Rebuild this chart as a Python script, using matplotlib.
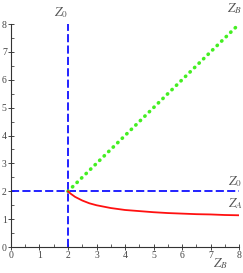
import matplotlib
matplotlib.use("Agg")
import matplotlib.pyplot as plt
from matplotlib.ticker import MultipleLocator

plt.rcParams['mathtext.fontset'] = 'stix'
plt.rcParams['font.family'] = 'Liberation Serif'

# red curve Z_A against Z_B
zb = [2.0, 2.1, 2.25, 2.5, 2.75, 3.0, 3.5, 4.0, 4.5, 5.0, 5.5, 6.0, 6.5, 7.0, 7.5, 8.0]
za = [2.0, 1.91, 1.8, 1.67, 1.57, 1.5, 1.4, 1.33, 1.29, 1.25, 1.22, 1.2, 1.18, 1.17, 1.15, 1.14]

# green dotted line Z_B = Z_B
diag_x = [2, 8]
diag_y = [2, 8]

z0 = 2
axis_max = 8

fig = plt.figure(figsize=(2.43, 2.73), dpi=100)
ax = fig.add_axes([0.045, 0.095, 0.939, 0.817])

ax.plot([z0, z0], [0, axis_max], color='#1010ff', lw=1.3, dashes=(4.5, 1.8))
ax.plot([0, axis_max], [z0, z0], color='#1010ff', lw=1.3, dashes=(4.5, 1.8))
ax.plot(diag_x, diag_y, color='#44ee22', lw=2.6, linestyle=(0, (0.1, 1.65)),
        dash_capstyle='round')
ax.plot(zb, za, color='#ff1010', lw=1.3)

ax.set_xlim(0, axis_max)
ax.set_ylim(0, axis_max)
ax.spines['top'].set_visible(False)
ax.spines['right'].set_visible(False)
for s in ['left', 'bottom']:
    ax.spines[s].set_color('#333333')
    ax.spines[s].set_linewidth(0.8)
ax.xaxis.set_major_locator(MultipleLocator(1))
ax.yaxis.set_major_locator(MultipleLocator(1))
ax.xaxis.set_minor_locator(MultipleLocator(0.5))
ax.yaxis.set_minor_locator(MultipleLocator(0.5))
ax.tick_params(which='major', direction='inout', length=4, width=0.7, colors='#444444',
               labelsize=7, pad=1)
ax.tick_params(which='minor', direction='in', length=2, width=0.6, color='#444444')
ax.set_facecolor('none')

lab = dict(color='#555555', fontsize=9.5, clip_on=False)
ax.text(2.0, 8.15, r'$Z_0$', ha='right', va='bottom', **lab)
ax.text(7.85, 8.55, r'$Z_B$', ha='center', va='center', **lab)
ax.text(7.85, 2.1, r'$Z_0$', ha='center', va='bottom', **lab)
ax.text(7.85, 1.3, r'$Z_A$', ha='center', va='bottom', **lab)
ax.text(7.35, -0.6, r'$Z_B$', ha='center', va='center', **lab)

fig.savefig('out.png', dpi=100)
